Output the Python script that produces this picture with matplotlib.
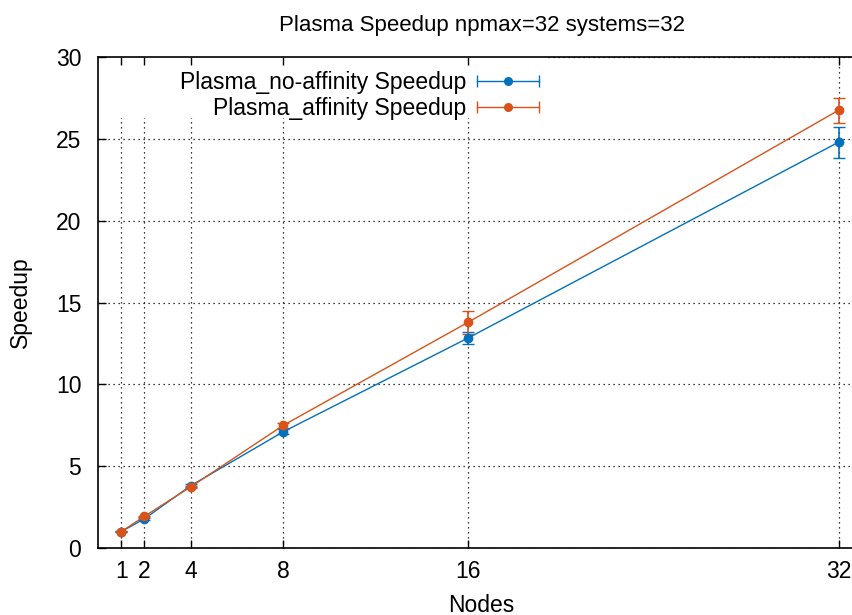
import matplotlib
matplotlib.use('Agg')
import matplotlib.pyplot as plt
from matplotlib.lines import Line2D
from matplotlib.patches import Rectangle
from matplotlib.legend_handler import HandlerLine2D, HandlerTuple

plt.rcParams['font.family'] = ['Liberation Sans', 'DejaVu Sans']

nodes = [1, 2, 4, 8, 16, 32]
noaff_speedup = [1.0, 1.78, 3.8, 7.1, 12.84, 24.8]
noaff_err = [0.02, 0.05, 0.08, 0.15, 0.35, 0.95]
aff_speedup = [1.0, 1.93, 3.73, 7.49, 13.8, 26.75]
aff_err = [0.02, 0.05, 0.08, 0.15, 0.7, 0.77]
x_ticks = [1, 2, 4, 8, 16, 32]
y_ticks = [0, 5, 10, 15, 20, 25, 30]

blue = '#0072bd'
orange = '#d95319'

fig = plt.figure(figsize=(8.53, 6.15), dpi=100)
ax = fig.add_axes([98 / 853, 1 - 548 / 615, 787 / 853, (548 - 57) / 615])

# dotted grid drawn by hand so the opaque key box can sit over it
grid_ls = (0, (1, 3))
ax.vlines(x_ticks, 0, 30, colors='black', linestyles=grid_ls, lw=0.9, zorder=1)
ax.hlines(y_ticks, 0, 34, colors='black', linestyles=grid_ls, lw=0.9, zorder=1)
ax.add_patch(Rectangle((0, 0.876), 0.572, 0.124, transform=ax.transAxes,
                       facecolor='white', edgecolor='none', zorder=1.2))

ax.errorbar(nodes, noaff_speedup, yerr=noaff_err, color=blue, lw=1,
            marker='o', ms=6, capsize=4, elinewidth=1.2, zorder=3)
ax.errorbar(nodes, aff_speedup, yerr=aff_err, color=orange, lw=1,
            marker='o', ms=6, capsize=4, elinewidth=1.2, zorder=3)

ax.set_xlim(0, 34)
ax.set_ylim(0, 30)
ax.set_xticks(x_ticks)
ax.set_yticks(y_ticks)
ax.tick_params(direction='in', length=6, width=1, labelsize=16.5,
               top=True, right=True, colors='black')
ax.tick_params(axis='x', pad=9)
ax.tick_params(axis='y', pad=12)
for s in ax.spines.values():
    s.set_linewidth(1.2)

# legend: gnuplot-style sample with horizontal caps and a centre dot
handles = []
hmap = {}
for c in [blue, orange]:
    caps = Line2D([], [], color=c, lw=1, marker='|', ms=8, mew=1)
    dot = Line2D([], [], color=c, lw=0, marker='o', ms=5.5)
    handles.append((caps, dot))
    hmap[caps] = HandlerLine2D(numpoints=2)
    hmap[dot] = HandlerLine2D(numpoints=1)
hmap[tuple] = HandlerTuple(ndivide=1)

leg = ax.legend(handles, ['Plasma_no-affinity Speedup', 'Plasma_affinity Speedup'],
                handler_map=hmap, loc='upper right', bbox_to_anchor=(0.587, 1.0),
                markerfirst=False, fontsize=16.5, handlelength=3.3, handletextpad=0.17,
                labelspacing=0.15, borderaxespad=0.3, borderpad=0.3,
                frameon=False)
for t in leg.get_texts():
    t.set_ha('right')
leg.set_zorder(5)

fig.text(482 / 853, 1 - 25 / 615, 'Plasma Speedup npmax=32 systems=32',
         ha='center', va='center', fontsize=16)
fig.text(20 / 853, 1 - 302 / 615, 'Speedup', rotation=90,
         ha='center', va='center', fontsize=16.5)
fig.text(481 / 853, 1 - 605 / 615, 'Nodes', ha='center', va='center', fontsize=16.5)

fig.savefig('out.png', dpi=100)
